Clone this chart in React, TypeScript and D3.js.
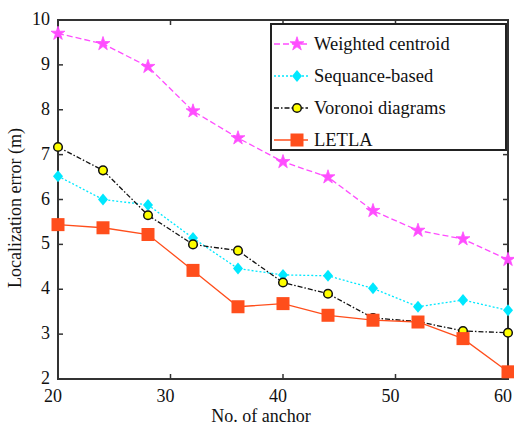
import React from "react";
import * as d3 from "d3";

const anchors = [20, 24, 28, 32, 36, 40, 44, 48, 52, 56, 60];
const weighted = [9.7, 9.47, 8.96, 7.97, 7.37, 6.84, 6.5, 5.75, 5.31, 5.12, 4.66];
const sequence = [6.52, 6.0, 5.88, 5.14, 4.46, 4.32, 4.3, 4.02, 3.61, 3.76, 3.53];
const voronoi = [7.17, 6.65, 5.65, 5.0, 4.86, 4.15, 3.9, 3.36, 3.28, 3.07, 3.03];
const letla = [5.44, 5.37, 5.22, 4.42, 3.61, 3.68, 3.42, 3.31, 3.27, 2.9, 2.16];
const xTicks = [20, 30, 40, 50, 60];
const yTicks = [2, 3, 4, 5, 6, 7, 8, 9, 10];

const seriesList = [
  { name: "Weighted centroid", values: weighted, color: "#ff4dff", dash: "6,3", marker: "star" },
  { name: "Sequance-based", values: sequence, color: "#00e8ff", dash: "2,2", marker: "diamond" },
  { name: "Voronoi diagrams", values: voronoi, color: "#111", dash: "5,2,1.5,2", marker: "circle" },
  { name: "LETLA", values: letla, color: "#ff4e1c", dash: "", marker: "square" },
];

const font = "Liberation Serif, DejaVu Serif, serif";

function Marker({ type, x, y }: { type: string; x: number; y: number }) {
  if (type === "star") {
    const p = d3.symbol(d3.symbolStar, 60)();
    return <path d={p || ""} transform={`translate(${x},${y})`} fill="#ff4dff" stroke="#ff4dff" strokeWidth={0.8} />;
  }
  if (type === "diamond") {
    return <path d="M0,-6L5,0L0,6L-5,0Z" transform={`translate(${x},${y})`} fill="#00e8ff" />;
  }
  if (type === "circle") {
    return <circle cx={x} cy={y} r={4.3} fill="#ffff00" stroke="#111" strokeWidth={1.5} />;
  }
  return <rect x={x - 6.5} y={y - 6.5} width={13} height={13} fill="#ff4e1c" />;
}

export default function App() {
  const W = 514, H = 428;
  const m = { left: 58, right: 6, top: 20, bottom: 49 };
  const x = d3.scaleLinear().domain([20, 60]).range([m.left, W - m.right]);
  const y = d3.scaleLinear().domain([2, 10]).range([H - m.bottom, m.top]);
  const line = d3.line<number>().x((_, i) => x(anchors[i])).y((d) => y(d));
  const axisColor = "#333";

  return (
    <svg width={W} height={H} style={{ position: "absolute", left: 0, top: 0, background: "#fff" }}>
      {/* frame */}
      <rect x={x(20)} y={y(10)} width={x(60) - x(20)} height={y(2) - y(10)} fill="none" stroke={axisColor} strokeWidth={2} />
      {xTicks.map((t) => (
        <g key={"x" + t}>
          <line x1={x(t)} x2={x(t)} y1={y(2)} y2={y(2) - 5} stroke={axisColor} strokeWidth={1.5} />
          <line x1={x(t)} x2={x(t)} y1={y(10)} y2={y(10) + 5} stroke={axisColor} strokeWidth={1.5} />
          <text x={x(t) - 5} y={y(2) + 23} textAnchor="middle" fontFamily={font} fontSize={18} fill="#111">{t}</text>
        </g>
      ))}
      {yTicks.map((t) => (
        <g key={"y" + t}>
          <line x1={x(20)} x2={x(20) + 5} y1={y(t)} y2={y(t)} stroke={axisColor} strokeWidth={1.5} />
          <line x1={x(60)} x2={x(60) - 5} y1={y(t)} y2={y(t)} stroke={axisColor} strokeWidth={1.5} />
          <text x={x(20) - 8} y={y(t) + 5} textAnchor="end" fontFamily={font} fontSize={18} fill="#111">{t}</text>
        </g>
      ))}
      <text x={261} y={422} textAnchor="middle" fontFamily={font} fontSize={18} fill="#111">No. of anchor</text>
      <text transform={`translate(21,208) rotate(-90)`} textAnchor="middle" fontFamily={font} fontSize={18} fill="#111">Localization error (m)</text>

      {seriesList.map((s) => (
        <g key={s.name}>
          <path d={line(s.values) || ""} fill="none" stroke={s.color} strokeWidth={1.3} strokeDasharray={s.dash} />
          {s.values.map((v, i) => (
            <Marker key={i} type={s.marker} x={x(anchors[i])} y={y(v)} />
          ))}
        </g>
      ))}

      {/* legend */}
      <g>
        <rect x={271} y={24} width={235} height={126} fill="#fff" stroke="#222" strokeWidth={2} />
        {seriesList.map((s, i) => {
          const ly = 44 + i * 32;
          return (
            <g key={"l" + s.name}>
              <line x1={274} x2={308} y1={ly} y2={ly} stroke={s.color} strokeWidth={1.3} strokeDasharray={s.dash} />
              <Marker type={s.marker} x={297} y={ly} />
              <text x={314} y={ly + 6} fontFamily={font} fontSize={18.5} fill="#111">{s.name}</text>
            </g>
          );
        })}
      </g>
    </svg>
  );
}
